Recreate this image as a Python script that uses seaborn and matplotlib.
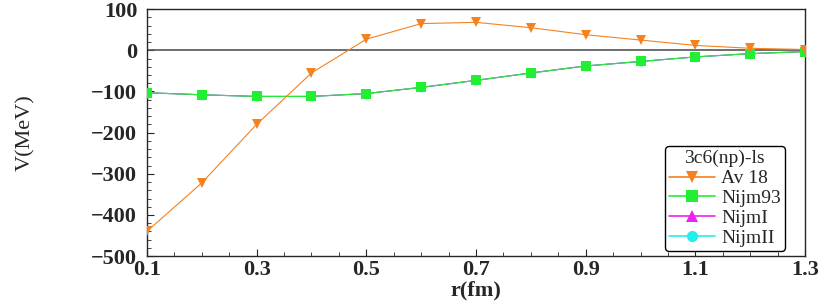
import numpy as np
import pandas as pd
import matplotlib
matplotlib.use("Agg")
import matplotlib.pyplot as plt
from matplotlib.ticker import MultipleLocator
import seaborn as sns

# Values
r = [0.1, 0.2, 0.3, 0.4, 0.5, 0.6, 0.7, 0.8, 0.9, 1.0, 1.1, 1.2, 1.3]
av18 = [-440, -322, -180, -55, 27, 65, 68, 55, 38, 25, 12, 5, 2]
nijm93 = [-103, -108, -112, -112, -105, -90, -73, -55, -38, -27, -16, -8, -3]
nijm1 = [-103, -108, -112, -112, -105, -90, -73, -55, -38, -27, -16, -8, -3]
nijm2 = [-103, -108, -112, -112, -105, -90, -73, -55, -38, -27, -16, -8, -3]
xticks = [0.1, 0.3, 0.5, 0.7, 0.9, 1.1, 1.3]

sns.set_style("ticks")
plt.rcParams['font.family'] = ['Liberation Serif', 'DejaVu Serif']

fig, ax = plt.subplots(figsize=(8.3, 3.06), dpi=100)
fig.subplots_adjust(left=0.177, right=0.97, top=0.97, bottom=0.163)

ax.axhline(0, color='#555555', lw=1.2, zorder=1)

# draw hidden series first, then the visible ones on top
series = [
    ("NijmII", nijm2, "#22eeee", "o"),
    ("NijmI", nijm1, "#ee22ee", "^"),
    ("Nijm93", nijm93, "#22ee33", "s"),
    ("Av 18", av18, "#f58220", "v"),
]
handles = {}
for name, vals, col, mk in series:
    df = pd.DataFrame({"r": r, "V": vals})
    sns.lineplot(data=df, x="r", y="V", ax=ax, color=col, lw=0.8,
                 marker=mk, markersize=7, markeredgewidth=0, zorder=3)
    handles[name] = plt.Line2D([], [], color=col, marker=mk, markersize=8,
                               markeredgewidth=0, lw=1.2)

ax.set_xlim(0.1, 1.3)
ax.set_ylim(-500, 100)
ax.set_xticks(xticks)
ax.set_xticklabels([str(t) for t in xticks])
ax.xaxis.set_minor_locator(MultipleLocator(0.05))
ax.yaxis.set_major_locator(MultipleLocator(100))
ax.yaxis.set_minor_locator(MultipleLocator(20))
ax.tick_params(which='both', direction='in', top=False, right=False)
ax.tick_params(which='major', length=5, labelsize=16)
ax.tick_params(axis='y', which='major', pad=7)
ax.tick_params(axis='x', which='major', pad=3)
ax.tick_params(which='minor', length=3)
for lab in ax.get_xticklabels() + ax.get_yticklabels():
    lab.set_fontweight('bold')
for s in ax.spines.values():
    s.set_linewidth(1.0)
    s.set_visible(True)

ax.set_xlabel("r(fm)", fontsize=16, fontweight='bold', labelpad=0)
ax.set_ylabel("V(MeV)", fontsize=16, labelpad=40)

order = ["Av 18", "Nijm93", "NijmI", "NijmII"]
leg = ax.legend([handles[k] for k in order], order, title="3c6(np)-ls",
                loc='lower right', bbox_to_anchor=(0.978, -0.003),
                fontsize=14, title_fontsize=14, handlelength=2.4,
                handletextpad=0.3, labelspacing=0.12, borderpad=0.2,
                borderaxespad=0.3, fancybox=True, framealpha=1,
                edgecolor='black')
leg.get_frame().set_linewidth(1.0)

plt.savefig("out.png", dpi=100)
